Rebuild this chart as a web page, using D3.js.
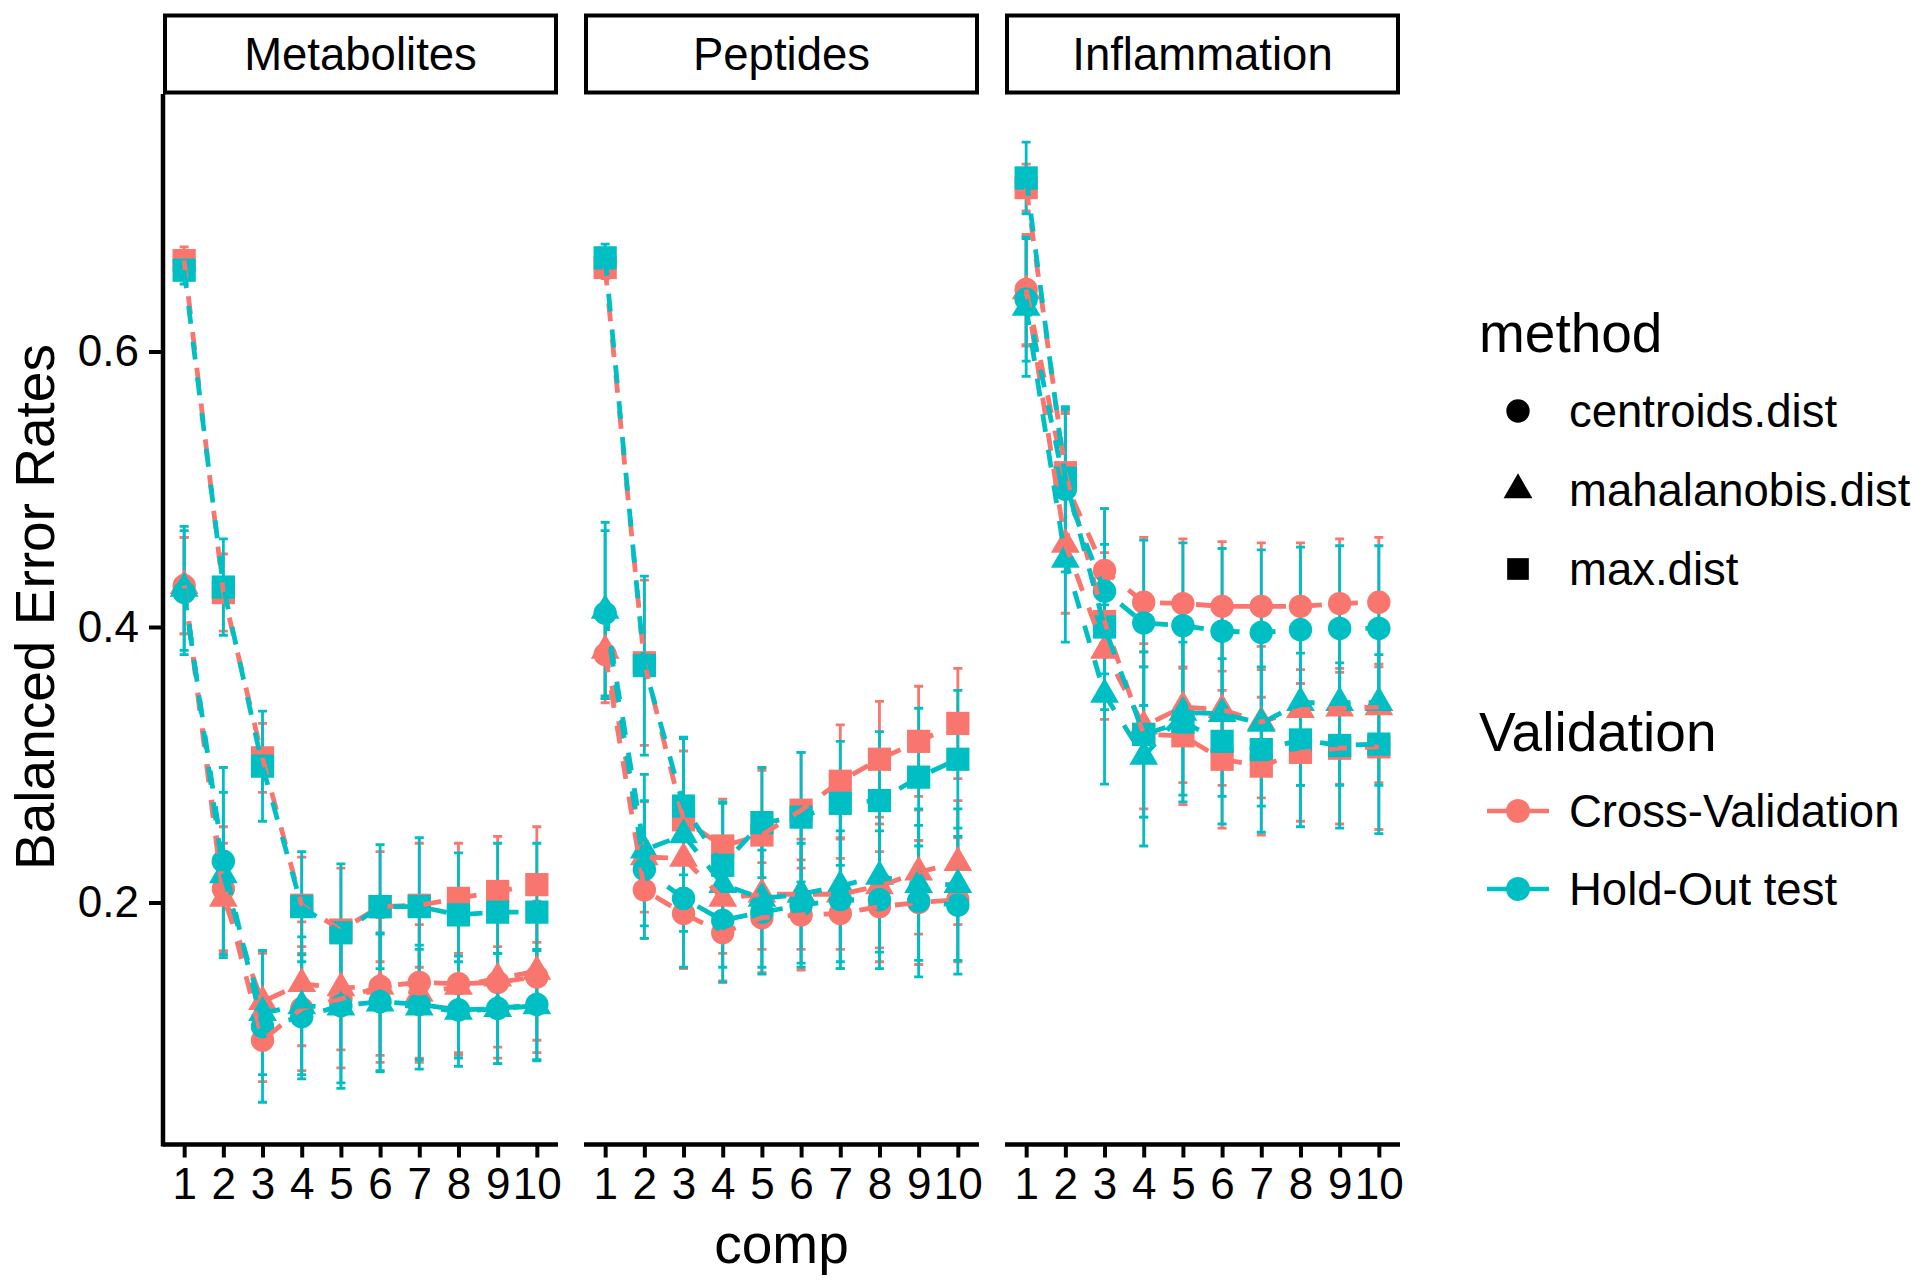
<!DOCTYPE html>
<html>
<head>
<meta charset="utf-8">
<script src="https://cdn.jsdelivr.net/npm/d3@7"></script>
<style>
  html, body { margin: 0; padding: 0; background: #ffffff; }
  svg { display: block; }
  text { font-family: "Liberation Sans", Arial, sans-serif; fill: #000; }
</style>
</head>
<body>
<svg id="chart" width="1920" height="1286"></svg>
<script>
// ---------------- data ----------------
const comps = [1, 2, 3, 4, 5, 6, 7, 8, 9, 10];
const panels = ["Metabolites", "Peptides", "Inflammation"];
const methods = ["centroids.dist", "mahalanobis.dist", "max.dist"];
const validations = ["Cross-Validation", "Hold-Out test"];
const yTicks = [0.2, 0.4, 0.6];

// Metabolites
const metabCentroidsCV = [0.430, 0.210, 0.100, 0.123, 0.130, 0.139, 0.142, 0.141, 0.142, 0.146];
const metabCentroidsHO = [0.425, 0.230, 0.110, 0.117, 0.125, 0.128, 0.126, 0.122, 0.123, 0.126];
const metabMahalCV     = [0.430, 0.203, 0.128, 0.141, 0.138, 0.139, 0.134, 0.139, 0.145, 0.150];
const metabMahalHO     = [0.428, 0.220, 0.120, 0.125, 0.124, 0.127, 0.124, 0.121, 0.123, 0.125];
const metabMaxCV       = [0.666, 0.425, 0.305, 0.198, 0.180, 0.197, 0.198, 0.203, 0.208, 0.213];
const metabMaxHO       = [0.659, 0.429, 0.299, 0.197, 0.178, 0.197, 0.197, 0.191, 0.193, 0.193];
const metabCentroidsCVsd = [0.035, 0.045, 0.030, 0.045, 0.050, 0.055, 0.055, 0.050, 0.055, 0.055];
const metabCentroidsHOsd = [0.045, 0.068, 0.055, 0.045, 0.060, 0.050, 0.040, 0.035, 0.040, 0.040];
const metabMahalCVsd     = [0.035, 0.040, 0.035, 0.045, 0.045, 0.050, 0.050, 0.050, 0.050, 0.050];
const metabMahalHOsd     = [0.045, 0.060, 0.045, 0.050, 0.055, 0.050, 0.045, 0.040, 0.040, 0.040];
const metabMaxCVsd       = [0.010, 0.028, 0.025, 0.035, 0.045, 0.040, 0.045, 0.040, 0.040, 0.042];
const metabMaxHOsd       = [0.010, 0.035, 0.040, 0.040, 0.050, 0.045, 0.050, 0.045, 0.050, 0.050];

// Peptides
const peptCentroidsCV = [0.380, 0.209, 0.192, 0.178, 0.189, 0.191, 0.192, 0.197, 0.200, 0.202];
const peptCentroidsHO = [0.410, 0.224, 0.203, 0.187, 0.193, 0.198, 0.202, 0.202, 0.201, 0.198];
const peptMahalCV     = [0.383, 0.233, 0.232, 0.203, 0.206, 0.206, 0.206, 0.212, 0.222, 0.229];
const peptMahalHO     = [0.412, 0.238, 0.249, 0.213, 0.203, 0.206, 0.212, 0.219, 0.213, 0.213];
const peptMaxCV       = [0.661, 0.374, 0.260, 0.241, 0.249, 0.267, 0.288, 0.304, 0.317, 0.330];
const peptMaxHO       = [0.668, 0.372, 0.270, 0.227, 0.258, 0.262, 0.272, 0.274, 0.291, 0.304];
const peptCentroidsCVsd = [0.035, 0.035, 0.040, 0.035, 0.040, 0.040, 0.040, 0.040, 0.045, 0.045];
const peptCentroidsHOsd = [0.060, 0.050, 0.050, 0.045, 0.045, 0.045, 0.050, 0.050, 0.055, 0.050];
const peptMahalCVsd     = [0.035, 0.040, 0.045, 0.040, 0.040, 0.040, 0.040, 0.045, 0.045, 0.045];
const peptMahalHOsd     = [0.064, 0.055, 0.070, 0.060, 0.050, 0.050, 0.055, 0.055, 0.055, 0.055];
const peptMaxCVsd       = [0.008, 0.060, 0.050, 0.034, 0.047, 0.042, 0.041, 0.042, 0.040, 0.040];
const peptMaxHOsd       = [0.010, 0.065, 0.050, 0.045, 0.040, 0.047, 0.045, 0.050, 0.050, 0.050];

// Inflammation
const inflCentroidsCV = [0.645, 0.505, 0.441, 0.418, 0.417, 0.415, 0.415, 0.415, 0.417, 0.418];
const inflCentroidsHO = [0.638, 0.500, 0.426, 0.403, 0.401, 0.397, 0.396, 0.398, 0.399, 0.399];
const inflMahalCV     = [0.644, 0.460, 0.383, 0.328, 0.342, 0.340, 0.331, 0.340, 0.341, 0.342];
const inflMahalHO     = [0.632, 0.449, 0.351, 0.306, 0.338, 0.337, 0.330, 0.345, 0.345, 0.345];
const inflMaxCV       = [0.719, 0.512, 0.404, 0.322, 0.321, 0.304, 0.299, 0.309, 0.312, 0.313];
const inflMaxHO       = [0.726, 0.508, 0.400, 0.322, 0.331, 0.317, 0.311, 0.318, 0.314, 0.315];
const inflCentroidsCVsd = [0.040, 0.050, 0.045, 0.047, 0.047, 0.047, 0.046, 0.046, 0.047, 0.047];
const inflCentroidsHOsd = [0.045, 0.060, 0.060, 0.060, 0.060, 0.060, 0.060, 0.060, 0.060, 0.060];
const inflMahalCVsd     = [0.040, 0.050, 0.050, 0.060, 0.055, 0.055, 0.055, 0.055, 0.055, 0.055];
const inflMahalHOsd     = [0.050, 0.060, 0.065, 0.065, 0.060, 0.060, 0.060, 0.060, 0.060, 0.060];
const inflMaxCVsd       = [0.017, 0.045, 0.050, 0.060, 0.050, 0.050, 0.050, 0.050, 0.055, 0.060];
const inflMaxHOsd       = [0.026, 0.050, 0.060, 0.060, 0.058, 0.060, 0.060, 0.063, 0.060, 0.065];

// ---------------- assemble ----------------
const table = {
  "Metabolites": [
    [metabCentroidsCV, metabCentroidsCVsd, metabCentroidsHO, metabCentroidsHOsd],
    [metabMahalCV, metabMahalCVsd, metabMahalHO, metabMahalHOsd],
    [metabMaxCV, metabMaxCVsd, metabMaxHO, metabMaxHOsd]
  ],
  "Peptides": [
    [peptCentroidsCV, peptCentroidsCVsd, peptCentroidsHO, peptCentroidsHOsd],
    [peptMahalCV, peptMahalCVsd, peptMahalHO, peptMahalHOsd],
    [peptMaxCV, peptMaxCVsd, peptMaxHO, peptMaxHOsd]
  ],
  "Inflammation": [
    [inflCentroidsCV, inflCentroidsCVsd, inflCentroidsHO, inflCentroidsHOsd],
    [inflMahalCV, inflMahalCVsd, inflMahalHO, inflMahalHOsd],
    [inflMaxCV, inflMaxCVsd, inflMaxHO, inflMaxHOsd]
  ]
};

function seriesFor(panel) {
  const out = [];
  validations.forEach((v, vi) => {
    methods.forEach((m, mi) => {
      const row = table[panel][mi];
      const vals = row[vi * 2], sds = row[vi * 2 + 1];
      out.push({
        validation: v, method: m,
        points: comps.map((c, i) => ({ comp: c, value: vals[i], sd: sds[i] }))
      });
    });
  });
  return out;
}

// ---------------- layout ----------------
const svg = d3.select("#chart");
const colour = d3.scaleOrdinal().domain(validations).range(["#F8766D", "#00BFC4"]);
const shape = d3.scaleOrdinal().domain(methods).range([d3.symbolCircle, d3.symbolTriangle, d3.symbolSquare]);
const shapeSize = d3.scaleOrdinal().domain(methods).range([430, 360, 540]);

const panelX0 = [163, 584, 1005];
const panelW = 395;
const plotTop = 94, plotBottom = 1144.5;
const y = d3.scaleLinear().domain([0, 0.6]).range([1178, 351.5]);

const tickFont = 44, smallFont = 45.5, bigFont = 55;

panels.forEach((panel, pi) => {
  const x0 = panelX0[pi];
  const x = d3.scaleLinear().domain([0.46, 10.54]).range([x0, x0 + panelW]);
  const g = svg.append("g");

  // strip
  g.append("rect")
    .attr("x", x0 + 2).attr("y", 15.5)
    .attr("width", panelW - 4).attr("height", 77)
    .attr("fill", "#fff").attr("stroke", "#000").attr("stroke-width", 4);
  g.append("text")
    .attr("x", x0 + panelW / 2).attr("y", 70)
    .attr("text-anchor", "middle")
    .style("font-size", smallFont + "px")
    .text(panel);

  // x axis
  const xAxis = d3.axisBottom(x).tickValues(comps).tickSize(13).tickPadding(10).tickFormat(d3.format("d"));
  const xa = g.append("g").attr("transform", `translate(0,${plotBottom})`).call(xAxis);
  xa.select(".domain").attr("stroke", "#000").attr("stroke-width", 4.5)
    .attr("d", `M${x0},0H${x0 + panelW}`);
  xa.selectAll(".tick line").attr("stroke", "#000").attr("stroke-width", 4);
  xa.selectAll(".tick text").style("font-size", tickFont + "px")
    .style("font-family", '"Liberation Sans", Arial, sans-serif').attr("fill", "#000");

  // y axis (first panel only)
  if (pi === 0) {
    const yAxis = d3.axisLeft(y).tickValues(yTicks).tickSize(14).tickPadding(10).tickFormat(d3.format(".1f"));
    const ya = g.append("g").attr("transform", `translate(${x0},0)`).call(yAxis);
    ya.select(".domain").attr("stroke", "#000").attr("stroke-width", 4.5)
      .attr("d", `M0,${plotTop}V${plotBottom + 2}`);
    ya.selectAll(".tick line").attr("stroke", "#000").attr("stroke-width", 4);
    ya.selectAll(".tick text").style("font-size", tickFont + "px")
      .style("font-family", '"Liberation Sans", Arial, sans-serif').attr("fill", "#000");
  }

  const series = seriesFor(panel);

  // error bars
  const capHalf = 4.5;
  series.forEach(s => {
    const eg = g.append("g").attr("stroke", colour(s.validation)).attr("stroke-width", 2.8).attr("fill", "none");
    s.points.forEach(p => {
      const cx = x(p.comp), yt = y(p.value + p.sd), yb = y(p.value - p.sd);
      eg.append("path").attr("d", `M${cx},${yt}V${yb}M${cx - capHalf},${yt}H${cx + capHalf}M${cx - capHalf},${yb}H${cx + capHalf}`);
    });
  });

  // points
  series.forEach(s => {
    const sym = d3.symbol().type(shape(s.method)).size(shapeSize(s.method));
    g.append("g").selectAll("path").data(s.points).join("path")
      .attr("transform", p => `translate(${x(p.comp)},${y(p.value)})`)
      .attr("d", sym())
      .attr("fill", colour(s.validation));
  });

  // dashed lines
  const line = d3.line().x(p => x(p.comp)).y(p => y(p.value));
  series.forEach(s => {
    g.append("path").datum(s.points)
      .attr("d", line)
      .attr("fill", "none")
      .attr("stroke", colour(s.validation))
      .attr("stroke-width", 4.8)
      .attr("stroke-dasharray", "18,18");
  });
});

// axis titles
svg.append("text")
  .attr("x", (panelX0[1] + panelW / 2)).attr("y", 1263)
  .attr("text-anchor", "middle").style("font-size", bigFont + "px").text("comp");
svg.append("text")
  .attr("transform", `translate(54,607) rotate(-90)`)
  .attr("text-anchor", "middle").style("font-size", bigFont + "px").text("Balanced Error Rates");

// legends
const leg = svg.append("g");
leg.append("text").attr("x", 1479).attr("y", 352).style("font-size", bigFont + "px").text("method");
const methodY = [411, 490, 569];
methods.forEach((m, i) => {
  leg.append("path")
    .attr("transform", `translate(1518,${methodY[i]})`)
    .attr("d", d3.symbol().type(shape(m)).size(m === "max.dist" ? 470 : shapeSize(m))())
    .attr("fill", "#000");
  leg.append("text").attr("x", 1569).attr("y", methodY[i] + 15.5)
    .style("font-size", smallFont + "px").text(m);
});
leg.append("text").attr("x", 1479).attr("y", 751).style("font-size", bigFont + "px").text("Validation");
const valY = [811, 889];
validations.forEach((v, i) => {
  leg.append("line").attr("x1", 1487).attr("x2", 1549).attr("y1", valY[i]).attr("y2", valY[i])
    .attr("stroke", colour(v)).attr("stroke-width", 4.5);
  leg.append("path")
    .attr("transform", `translate(1518,${valY[i]})`)
    .attr("d", d3.symbol().type(d3.symbolCircle).size(450)())
    .attr("fill", colour(v));
  leg.append("text").attr("x", 1569).attr("y", valY[i] + 15.5)
    .style("font-size", smallFont + "px").text(v);
});
</script>
</body>
</html>
